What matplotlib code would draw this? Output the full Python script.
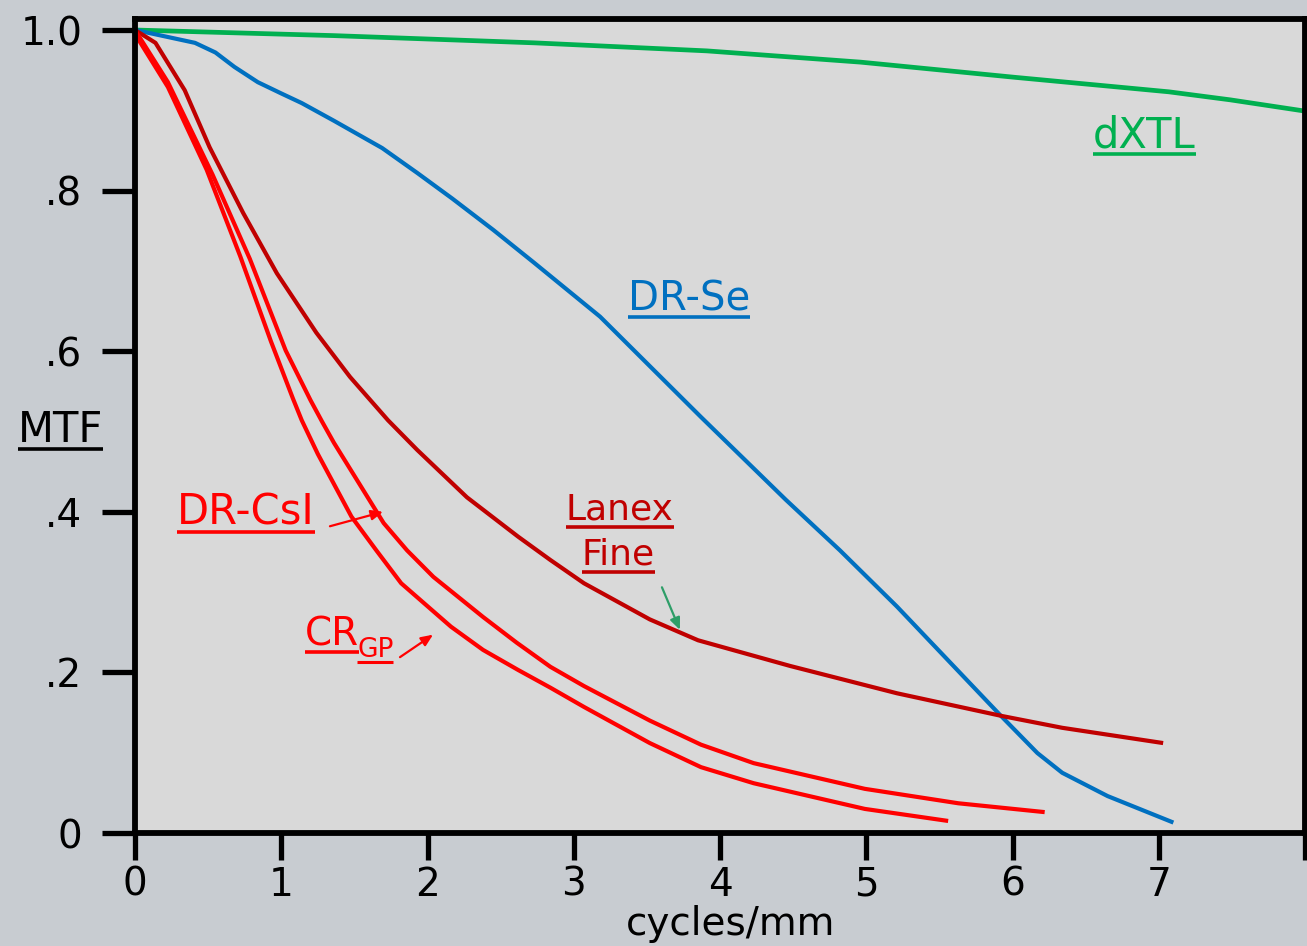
import matplotlib
matplotlib.use("Agg")
import matplotlib.pyplot as plt
from matplotlib.lines import Line2D

# MTF curves for several detector types (spatial frequency in cycles/mm)
freq_dxtl = [0, 1.36, 2.73, 3.91, 4.96, 6.02, 7.07, 7.49, 8.0]
mtf_dxtl = [1.0, 0.993, 0.984, 0.974, 0.960, 0.941, 0.923, 0.913, 0.899]

freq_se = [0, 0.13, 0.41, 0.55, 0.68, 0.84, 1.0, 1.14, 1.36, 1.69, 1.93,
           2.17, 2.45, 2.73, 3.18, 3.87, 4.45, 4.82, 5.21, 5.915, 6.17, 6.34,
           6.65, 7.10]
mtf_se = [1.0, 0.995, 0.984, 0.972, 0.954, 0.935, 0.921, 0.909, 0.887, 0.853,
          0.822, 0.790, 0.751, 0.710, 0.643, 0.518, 0.415, 0.352, 0.282,
          0.147, 0.0996, 0.075, 0.046, 0.013]

freq_lanex = [0, 0.14, 0.34, 0.51, 0.74, 0.97, 1.24, 1.47, 1.73, 1.93, 2.27,
              2.62, 2.84, 3.07, 3.52, 3.85, 4.48, 5.21, 5.92, 6.34, 7.03]
mtf_lanex = [1.0, 0.984, 0.925, 0.854, 0.772, 0.697, 0.623, 0.568, 0.514,
             0.477, 0.418, 0.369, 0.340, 0.311, 0.266, 0.240, 0.208, 0.174,
             0.146, 0.131, 0.112]

freq_csi = [0, 0.225, 0.53, 0.785, 1.03, 1.20, 1.28, 1.36, 1.70, 1.86, 2.04,
            2.38, 2.61, 2.84, 3.07, 3.30, 3.52, 3.87, 4.23, 4.99, 5.63, 6.22]
mtf_csi = [1.0, 0.935, 0.820, 0.715, 0.601, 0.539, 0.512, 0.486, 0.386,
           0.352, 0.319, 0.269, 0.237, 0.207, 0.183, 0.161, 0.140, 0.110,
           0.087, 0.055, 0.037, 0.026]

freq_cr = [0, 0.225, 0.49, 0.72, 0.93, 1.08, 1.14, 1.25, 1.48, 1.65, 1.82,
           2.16, 2.38, 2.62, 2.84, 3.07, 3.52, 3.87, 4.23, 4.99, 5.56]
mtf_cr = [0.995, 0.929, 0.826, 0.718, 0.612, 0.541, 0.514, 0.472, 0.394,
          0.352, 0.311, 0.257, 0.228, 0.203, 0.181, 0.157, 0.112, 0.082,
          0.062, 0.030, 0.015]

x_ticks = [0, 1, 2, 3, 4, 5, 6, 7, 8]
x_tick_labels = ["0", "1", "2", "3", "4", "5", "6", "7", ""]
y_ticks = [0, 0.2, 0.4, 0.6, 0.8, 1.0]
y_tick_labels = ["0", ".2", ".4", ".6", ".8", "1.0"]

C_GREEN = "#00b050"
C_BLUE = "#0070c0"
C_DARKRED = "#c00000"
C_RED = "#ff0000"
C_ARROW_GREEN = "#2e9e68"

plt.rcParams["font.family"] = ["DejaVu Sans"]

W, H = 1307, 946
fig = plt.figure(figsize=(W / 100, H / 100), dpi=100, facecolor="#c8ccd1")
ax = fig.add_axes([135 / W, (H - 833) / H, 1170 / W, 814 / H])
ax.set_facecolor("#d9d9d9")
ax.set_xlim(0, 8)
ax.set_ylim(0, 1.0137)

line_kw = dict(lw=3.0, solid_capstyle="butt", solid_joinstyle="round")
ax.plot(freq_dxtl, mtf_dxtl, color=C_GREEN, **{**line_kw, "lw": 3.4})
ax.plot(freq_se, mtf_se, color=C_BLUE, **line_kw)
ax.plot(freq_lanex, mtf_lanex, color=C_DARKRED, **line_kw)
ax.plot(freq_csi, mtf_csi, color=C_RED, **line_kw)
ax.plot(freq_cr, mtf_cr, color=C_RED, **line_kw)

for s in ax.spines.values():
    s.set_linewidth(4.2)
    s.set_color("black")

ax.set_xticks(x_ticks)
ax.set_xticklabels(x_tick_labels)
ax.set_yticks(y_ticks)
ax.set_yticklabels(y_tick_labels)
ax.tick_params(axis="y", direction="out", length=24, width=3.8, pad=14,
               labelsize=28, colors="black")
ax.tick_params(axis="x", direction="out", length=19.5, width=3.8, pad=4,
               labelsize=28, colors="black")

texts = []


def label(x, y, s, color, size, ul=True, gap=7, ulw=2.6):
    t = ax.text(x, y, s, color=color, fontsize=size, ha="left",
                va="baseline", clip_on=False)
    if ul:
        texts.append((t, color, gap, ulw))
    return t


label(-0.80, 0.487, "MTF", "black", 30)
label(6.55, 0.854, "dXTL", C_GREEN, 30)
label(3.37, 0.651, "DR-Se", C_BLUE, 29)
label(2.947, 0.390, "Lanex", C_DARKRED, 26)
label(3.056, 0.334, "Fine", C_DARKRED, 26)
label(0.287, 0.384, "DR-CsI", C_RED, 30)
label(1.162, 0.234, "CR", C_RED, 28)
label(1.518, 0.219, "GP", C_RED, 19, gap=5, ulw=2.2)

ax.text(4.07, -0.127, "cycles/mm", color="black", fontsize=28,
        ha="center", va="baseline", clip_on=False)

arrow_kw = dict(arrowstyle="-|>,head_length=0.7,head_width=0.3", lw=1.6,
                shrinkA=0, shrinkB=0)
ax.annotate("", xy=(1.696, 0.400), xytext=(1.333, 0.382),
            arrowprops=dict(color=C_RED, **arrow_kw))
ax.annotate("", xy=(2.038, 0.247), xytext=(1.812, 0.219),
            arrowprops=dict(color=C_RED, **arrow_kw))
ax.annotate("", xy=(3.726, 0.253), xytext=(3.603, 0.306),
            arrowprops=dict(color=C_ARROW_GREEN, **arrow_kw))

# underline the labels using their rendered extents
fig.canvas.draw()
renderer = fig.canvas.get_renderer()
inv = fig.transFigure.inverted()
for t, color, gap, ulw in texts:
    bb = t.get_window_extent(renderer)
    base = ax.transData.transform(t.get_position())[1]
    yl = base - gap
    (x0, y0), (x1, _) = inv.transform([(bb.x0, yl), (bb.x1, yl)])
    fig.add_artist(Line2D([x0, x1], [y0, y0], color=color, lw=ulw,
                          transform=fig.transFigure, solid_capstyle="butt"))

fig.savefig("out.png", dpi=100, facecolor=fig.get_facecolor())
